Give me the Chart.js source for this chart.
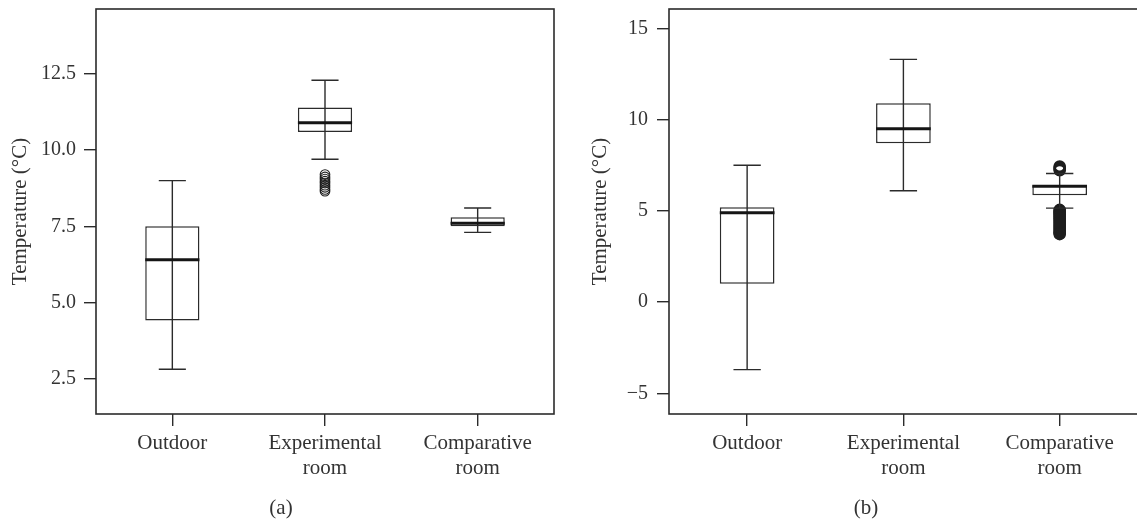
<!DOCTYPE html>
<html>
<head>
<meta charset="utf-8">
<script src="https://cdn.jsdelivr.net/npm/chart.js@4.4.1/dist/chart.umd.min.js"></script>
<style>
  html, body { margin: 0; padding: 0; background: #fff; overflow: hidden; width: 1137px; height: 525px; }
  .panel { position: absolute; top: 0; height: 525px; }
  #wrapA { left: 0; width: 570px; }
  #wrapB { left: 570px; width: 575px; }
</style>
</head>
<body>
<div class="panel" id="wrapA"><canvas id="chartA"></canvas></div>
<div class="panel" id="wrapB"><canvas id="chartB"></canvas></div>
<script>
// Categories shared by both panels
const categories = [['Outdoor'], ['Experimental', 'room'], ['Comparative', 'room']];

// Panel (a): box statistics, °C
const aWhiskerLow  = [2.8, 9.7, 7.3];
const aQ1          = [4.4, 10.6, 7.5];
const aMedian      = [6.4, 10.9, 7.6];
const aQ3          = [7.5, 11.4, 7.8];
const aWhiskerHigh = [9.0, 12.3, 8.1];
const aOutliers    = [[], [9.2, 9.12, 9.05, 8.98, 8.92, 8.85, 8.78, 8.71, 8.65], []];
const aTicks       = [2.5, 5.0, 7.5, 10.0, 12.5];
const aRange       = [1.33, 14.64];

// Panel (b): box statistics, °C
const bWhiskerLow  = [-3.7, 6.1, 5.15];
const bQ1          = [1.0, 8.7, 5.85];
const bMedian      = [4.9, 9.5, 6.35];
const bQ3          = [5.2, 10.9, 6.4];
const bWhiskerHigh = [7.5, 13.3, 7.05];
const bOutliers    = [[], [], [7.44, 7.38, 7.33, 7.27, 7.22,
                               5.06, 5.02, 4.97, 4.93, 4.88, 4.84, 4.79, 4.73, 4.69, 4.62,
                               4.58, 4.51, 4.47, 4.41, 4.36, 4.30, 4.24, 4.19, 4.13, 4.08,
                               4.02, 3.97, 3.91, 3.86, 3.81, 3.76, 3.72]];
const bTicks       = [-5, 0, 5, 10, 15];
const bRange       = [-6.13, 16.06];

const INK = '#2b2b2b';
const TEXT = '#333333';
const FONT_FAMILY = '"Liberation Serif", "Times New Roman", serif';

Chart.defaults.font.family = FONT_FAMILY;
Chart.defaults.font.size = 20;
Chart.defaults.color = TEXT;

// Whiskers, caps, medians and the plot frame, positioned through the chart scales
const boxDecor = {
  id: 'boxDecor',
  afterDatasetsDraw(chart, args, o) {
    const { ctx, chartArea } = chart;
    const y = chart.scales.y;
    const bars = chart.getDatasetMeta(0).data;
    ctx.save();
    ctx.lineCap = 'butt';
    bars.forEach((bar, i) => {
      const x = bar.x;
      const half = bar.width / 2;
      const yLo = y.getPixelForValue(o.low[i]);
      const yHi = y.getPixelForValue(o.high[i]);
      ctx.strokeStyle = INK;
      ctx.lineWidth = 1.4;
      ctx.beginPath();
      ctx.moveTo(x, yLo); ctx.lineTo(x, yHi);
      ctx.moveTo(x - half / 2, yLo); ctx.lineTo(x + half / 2, yLo);
      ctx.moveTo(x - half / 2, yHi); ctx.lineTo(x + half / 2, yHi);
      ctx.stroke();
      const yMed = y.getPixelForValue(o.median[i]);
      ctx.strokeStyle = '#151515';
      ctx.lineWidth = 3;
      ctx.beginPath();
      ctx.moveTo(x - half, yMed); ctx.lineTo(x + half, yMed);
      ctx.stroke();
    });
    ctx.strokeStyle = INK;
    ctx.lineWidth = 1.6;
    ctx.strokeRect(chartArea.left, chartArea.top, chartArea.right - chartArea.left, chartArea.bottom - chartArea.top);
    ctx.restore();
  }
};

// Panel caption below the axis labels
const panelCaption = {
  id: 'panelCaption',
  afterDraw(chart, args, o) {
    const { ctx } = chart;
    ctx.save();
    ctx.font = '21px ' + FONT_FAMILY;
    ctx.fillStyle = TEXT;
    ctx.textAlign = 'center';
    ctx.textBaseline = 'middle';
    ctx.fillText(o.text, o.x, o.y);
    ctx.restore();
  }
};

function makePanel(canvasId, s) {
  // outliers in the category scale's own index space (category i -> value i)
  const outlierPoints = [];
  s.outliers.forEach((vals, i) => vals.forEach(v => outlierPoints.push({ x: i, y: v })));
  return new Chart(document.getElementById(canvasId), {
    type: 'bar',
    data: {
      labels: categories,
      datasets: [
        {
          type: 'bar',
          data: categories.map((_, i) => [s.q1[i], s.q3[i]]),
          backgroundColor: '#ffffff',
          borderColor: INK,
          borderWidth: 1.5,
          borderSkipped: false,
          grouped: false,
          barPercentage: s.boxFraction,
          categoryPercentage: 1,
          xAxisID: 'x',
          yAxisID: 'y'
        },
        {
          type: 'scatter',
          data: outlierPoints,
          parsing: false,
          xAxisID: 'x',
          yAxisID: 'y',
          pointStyle: 'circle',
          pointRadius: s.outlierRadius,
          borderWidth: s.outlierStroke,
          borderColor: '#1e1e1e',
          backgroundColor: 'rgba(0,0,0,0)'
        }
      ]
    },
    options: {
      responsive: true,
      maintainAspectRatio: false,
      animation: false,
      events: [],
      layout: { padding: { top: 9, right: s.padRight, left: 0, bottom: 0 } },
      plugins: {
        legend: { display: false },
        tooltip: { enabled: false },
        boxDecor: { low: s.low, high: s.high, median: s.median },
        panelCaption: { text: s.caption, x: s.captionX, y: 508 }
      },
      scales: {
        x: {
          type: 'category',
          offset: true,
          grid: { display: true, drawOnChartArea: false, drawTicks: true, tickLength: 12, offset: false, color: INK, lineWidth: 1.4 },
          border: { display: false },
          ticks: { padding: 5, maxRotation: 0, autoSkip: false, color: TEXT, font: { size: 21, lineHeight: 1.2 } },
          afterFit(scale) {
            scale.height = 111;
            scale.paddingLeft = 0; scale.paddingRight = 0;
          }
        },
        y: {
          type: 'linear',
          min: s.range[0],
          max: s.range[1],
          grid: { display: true, drawOnChartArea: false, drawTicks: true, tickLength: 12, color: INK, lineWidth: 1.4 },
          border: { display: false },
          afterBuildTicks(scale) { scale.ticks = s.ticks.map(v => ({ value: v })); },
          ticks: {
            padding: s.tickPad,
            color: TEXT,
            font: { size: 20 },
            callback: s.tickFormat
          },
          title: {
            display: true,
            text: 'Temperature (°C)',
            color: TEXT,
            font: { size: 21, lineHeight: 1.2 },
            padding: { top: s.titlePad, bottom: 0 }
          },
          afterFit(scale) {
            scale.width = s.axisWidth;
            scale.paddingTop = 0; scale.paddingBottom = 0;
          }
        }
      }
    },
    plugins: [boxDecor, panelCaption]
  });
}

makePanel('chartA', {
  low: aWhiskerLow, q1: aQ1, median: aMedian, q3: aQ3, high: aWhiskerHigh,
  outliers: aOutliers, ticks: aTicks, range: aRange,
  tickFormat: v => Number(v).toFixed(1),
  boxFraction: 0.355, outlierRadius: 4.8, outlierStroke: 1.1,
  padRight: 16, axisWidth: 96, tickPad: 8, titlePad: 7.4,
  caption: '(a)', captionX: 281
});

makePanel('chartB', {
  low: bWhiskerLow, q1: bQ1, median: bMedian, q3: bQ3, high: bWhiskerHigh,
  outliers: bOutliers, ticks: bTicks, range: bRange,
  tickFormat: v => (v < 0 ? '\u2212' + Math.abs(v) : String(v)),
  boxFraction: 0.35, outlierRadius: 5.2, outlierStroke: 2,
  padRight: 3.5, axisWidth: 99, tickPad: 9, titlePad: 18.2,
  caption: '(b)', captionX: 296
});
</script>
</body>
</html>
